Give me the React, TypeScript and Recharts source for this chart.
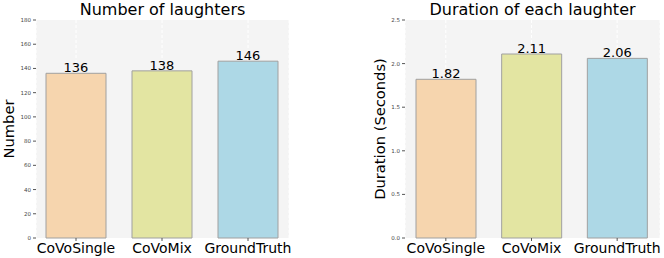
import React from 'react';
import { BarChart, Bar, XAxis, YAxis, CartesianGrid, Cell, LabelList, Label } from 'recharts';

const systems = ['CoVoSingle', 'CoVoMix', 'GroundTruth'];
const laughterCounts = [136, 138, 146];
const laughterDurations = [1.82, 2.11, 2.06];
const countTicks = [0, 20, 40, 60, 80, 100, 120, 140, 160, 180];
const durationTicks = [0, 0.5, 1.0, 1.5, 2.0, 2.5];
const barColors = ['#f6d5ae', '#e3e5a2', '#add8e6'];

const FONT = '"DejaVu Sans", sans-serif';

const countData = systems.map((name, i) => ({ name, value: laughterCounts[i] }));
const durationData = systems.map((name, i) => ({ name, value: laughterDurations[i] }));

interface PanelProps {
  data: { name: string; value: number }[];
  ticks: number[];
  title: string;
  yLabel: string;
  left: number;
  axisWidth: number;
  rightMargin: number;
  labelX: number;
  padL: number;
  padR: number;
  tickFmt: (v: number) => string;
  labelFmt: (v: number) => string;
}

function Panel({ data, ticks, title, yLabel, left, axisWidth, rightMargin, labelX, padL, padR, tickFmt, labelFmt }: PanelProps) {
  const width = 300;
  const plotCenter = axisWidth + (width - axisWidth - rightMargin) / 2;
  return (
    <div style={{ position: 'absolute', left, top: 0, width, height: 258 }}>
      <div
        style={{
          position: 'absolute',
          left: plotCenter - 150,
          width: 300,
          top: 0,
          textAlign: 'center',
          fontFamily: FONT,
          fontSize: 16,
          color: '#000',
          lineHeight: '19px',
        }}
      >
        {title}
      </div>
      <BarChart
        width={width}
        height={258}
        data={data}
        margin={{ top: 20, right: rightMargin, left: 0, bottom: 0 }}
        style={{ fontFamily: FONT }}
      >
        <CartesianGrid fill="#f4f4f4" stroke="#ffffff" strokeDasharray="3 2" horizontal={false} />
        <XAxis
          dataKey="name"
          height={20}
          axisLine={false}
          padding={{ left: padL, right: padR }}
          tickSize={3}
          tickMargin={2}
          tickLine={{ stroke: '#555' }}
          tick={{ fontSize: 14, fill: '#000' }}
          interval={0}
        />
        <YAxis
          width={axisWidth}
          domain={[ticks[0], ticks[ticks.length - 1]]}
          ticks={ticks}
          axisLine={false}
          tickSize={3}
          tickMargin={2}
          tickLine={{ stroke: '#555' }}
          tick={{ fontSize: 5.5, fill: '#444' }}
          tickFormatter={tickFmt}
        >
          <Label
            content={({ viewBox }: any) => {
              const cx = viewBox.x + labelX;
              const cy = viewBox.y + viewBox.height / 2;
              return (
                <text
                  x={cx}
                  y={cy}
                  transform={`rotate(-90 ${cx} ${cy})`}
                  textAnchor="middle"
                  dominantBaseline="central"
                  fontSize={14.7}
                  fontFamily={FONT}
                  fill="#000"
                >
                  {yLabel}
                </text>
              );
            }}
          />
        </YAxis>
        <Bar dataKey="value" barSize={60} stroke="#a0a0a0" strokeWidth={1} isAnimationActive={false}>
          {data.map((d, i) => (
            <Cell key={d.name} fill={barColors[i]} />
          ))}
          <LabelList
            dataKey="value"
            position="top"
            offset={1}
            formatter={(v: any) => labelFmt(Number(v))}
            style={{ fontSize: 13, fill: '#000', fontFamily: FONT }}
          />
        </Bar>
      </BarChart>
    </div>
  );
}

export default function App() {
  return (
    <div style={{ position: 'absolute', left: 0, top: 0, width: 664, height: 258, background: '#fff' }}>
      <Panel
        data={countData}
        ticks={countTicks}
        title="Number of laughters"
        yLabel="Number"
        left={0}
        axisWidth={36}
        rightMargin={11}
        labelX={8.5}
        padL={-3}
        padR={-2}
        tickFmt={(v) => String(v)}
        labelFmt={(v) => String(v)}
      />
      <Panel
        data={durationData}
        ticks={durationTicks}
        title="Duration of each laughter"
        yLabel="Duration (Seconds)"
        left={364}
        axisWidth={41}
        rightMargin={4}
        labelX={15}
        padL={-2}
        padR={0}
        tickFmt={(v) => v.toFixed(1)}
        labelFmt={(v) => v.toFixed(2)}
      />
    </div>
  );
}
